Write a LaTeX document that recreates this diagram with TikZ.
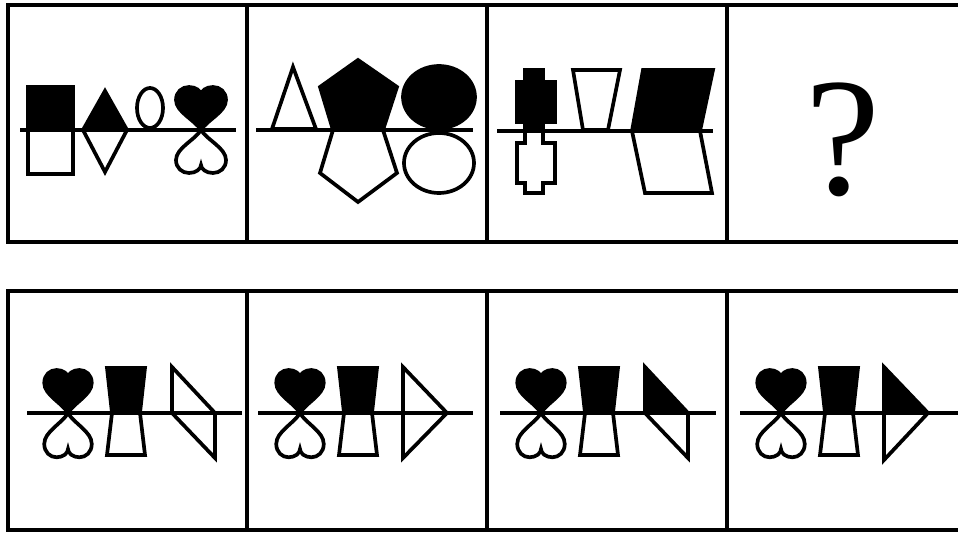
\documentclass[tikz,border=0pt]{standalone}
\usepackage{amsmath, amssymb}
\usepackage{xcolor}
\usepackage{fontspec}
\usepackage{tikz}
\usetikzlibrary{calc, shapes.geometric, positioning}

\newfontfamily\hoifont{Liberation Serif}

\tikzset{
    cell/.style={line width=2.2pt},
    midline/.style={line width=1.9pt},
    openpart/.style={draw=black, line width=2.1pt, line join=miter},
    fillpart/.style={openpart, fill=black},
    pics/heart/.style={code={
        \path[pic actions] (0,0) .. controls (-6,-10) and (-25,-18) .. (-25,-30)
            .. controls (-25,-38) and (-19,-43) .. (-12,-43)
            .. controls (-5,-43) and (0,-39) .. (0,-35)
            .. controls (0,-39) and (5,-43) .. (12,-43)
            .. controls (19,-43) and (25,-38) .. (25,-30)
            .. controls (25,-18) and (6,-10) .. (0,0) -- cycle;
    }}
}

\begin{document}
\begin{tikzpicture}[x=0.02cm, y=-0.02cm]
    \useasboundingbox (0,0) rectangle (958,533);

    % Khung hai hàng
    \draw[cell] (958,5) -- (8,5) -- (8,242) -- (958,242);
    \draw[cell] (958,291) -- (8,291) -- (8,530) -- (958,530);
    \foreach \x in {247,487,727} {
        \draw[cell] (\x,5) -- (\x,242);
        \draw[cell] (\x,291) -- (\x,530);
    }

    % Ô 1: vuông, thoi, bầu dục, tim
    \draw[fillpart] (28,87) rectangle (73,130);
    \draw[openpart] (28,130) rectangle (73,174);
    \draw[fillpart] (83,130) -- (105,91) -- (127,130) -- cycle;
    \draw[openpart] (83,130) -- (105,172) -- (127,130);
    \draw[openpart] (150,108) ellipse (13 and 20);
    \pic[fillpart] at (201,130) {heart};
    \pic[openpart, yscale=-1] at (201,130) {heart};
    \draw[midline] (20,130) -- (236,130);

    % Ô 2: tam giác, ngũ giác, tròn
    \draw[openpart] (272,129) -- (293,67) -- (316,129) -- cycle;
    \draw[fillpart] (333,130) -- (320,87) -- (358,60) -- (397,87) -- (383,130) -- cycle;
    \draw[openpart] (333,130) -- (320,173) -- (358,202) -- (397,173) -- (383,130);
    \draw[fillpart] (439,97) ellipse (36 and 31);
    \draw[openpart] (439,163) ellipse (35 and 30);
    \draw[midline] (256,130) -- (473,130);

    % Ô 3: phích cắm, hình thang, hình bình hành
    \draw[fillpart] (525,70) -- (543,70) -- (543,82) -- (555,82) -- (555,122) -- (543,122)
        -- (543,131) -- (525,131) -- (525,122) -- (517,122) -- (517,82) -- (525,82) -- cycle;
    \draw[openpart] (525,131) -- (525,143) -- (517,143) -- (517,183) -- (525,183) -- (525,193)
        -- (543,193) -- (543,183) -- (555,183) -- (555,143) -- (543,143) -- (543,131);
    \draw[openpart] (573,70) -- (620,70) -- (608,130) -- (583,130) -- cycle;
    \draw[fillpart] (643,70) -- (713,70) -- (700,131) -- (632,131) -- cycle;
    \draw[openpart] (632,131) -- (645,193) -- (712,193) -- (700,131);
    \draw[midline] (497,131) -- (713,131);

    % Ô 4: dấu hỏi
    \node (hoi) at (843,140) {\hoifont\fontsize{96}{96}\selectfont ?};

    % Hàng dưới: tim và hình thang
    \foreach \s in {0,232,473,713} {
        \pic[fillpart, xscale=0.95] at (68+\s,413) {heart};
        \pic[openpart, xscale=0.95, yscale=-1.03] at (68+\s,413) {heart};
        \draw[fillpart] (107+\s,368) -- (145+\s,368) -- (140+\s,413) -- (112+\s,413) -- cycle;
        \draw[openpart] (112+\s,413) -- (107+\s,455) -- (145+\s,455) -- (140+\s,413);
    }

    % Đáp án A
    \draw[openpart] (172,367) -- (172,413) -- (215,413) -- cycle;
    \draw[openpart] (172,413) -- (215,458) -- (215,413);
    \draw[midline] (27,413) -- (242,413);

    % Đáp án B
    \draw[openpart] (403,367) -- (403,413) -- (447,413) -- cycle;
    \draw[openpart] (403,413) -- (403,458) -- (447,413);
    \draw[midline] (258,413) -- (473,413);

    % Đáp án C
    \draw[fillpart] (645,367) -- (645,413) -- (688,413) -- cycle;
    \draw[openpart] (645,413) -- (688,458) -- (688,413);
    \draw[midline] (500,413) -- (716,413);

    % Đáp án D
    \draw[fillpart] (884,367) -- (884,413) -- (928,413) -- cycle;
    \draw[openpart] (884,413) -- (884,460) -- (928,413);
    \draw[midline] (740,413) -- (958,413);
\end{tikzpicture}
\end{document}
